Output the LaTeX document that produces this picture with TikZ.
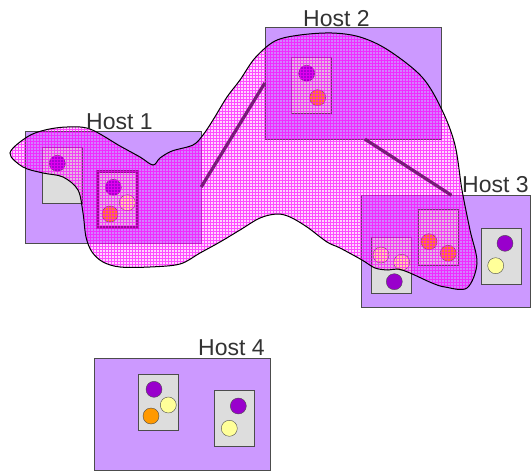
\documentclass[tikz,border=0pt]{standalone}
\usepackage{fontspec}
\setmainfont{Liberation Sans}
\definecolor{hostfill}{HTML}{CC99FF}
\definecolor{vmgrey}{HTML}{DDDDDD}
\definecolor{apppurple}{HTML}{9900CC}
\definecolor{apporange}{HTML}{FF9900}
\definecolor{appyellow}{HTML}{FFFF99}
\definecolor{linkpurple}{HTML}{7A1A7A}
\definecolor{hatch}{RGB}{255,0,255}
\newcommand\sharedarea{plot [smooth cycle, tension=0.55] coordinates {
  (10,153) (27,137) (45,130) (67,127) (90,129) (120,146) (140,157) (153,165)
  (160,158) (172,151) (193,145) (203,135) (213,120) (227,97) (240,80) (255,58)
  (275,41) (300,35) (332,33) (360,37) (388,50) (422,77) (442,110) (455,145)
  (462,190) (470,230) (477,263) (467,288) (445,287) (432,283) (410,273) (398,269)
  (388,270) (375,268) (362,260) (340,248) (327,242) (307,227) (290,217) (277,214)
  (260,218) (240,230) (220,242) (200,253) (180,264) (150,267) (120,267) (103,262)
  (92,252) (86,237) (83,213) (78,190) (63,177) (43,173) (23,167)}}

\begin{document}
\begin{tikzpicture}[x=1pt, y=-1pt,
  host/.style={draw=black!70, fill=hostfill, minimum width=176pt, minimum height=112pt, inner sep=0pt},
  vm/.style={draw=black!70, fill=vmgrey, minimum width=40pt, minimum height=56pt, inner sep=0pt},
  hostlabel/.style={anchor=base west, inner sep=0pt, text=black!80, font=\fontsize{23}{27}\selectfont},
  app/.style={draw=black!70, fill=#1},
  link/.style={line width=3.2pt, linkpurple}]
\useasboundingbox (0,0) rectangle (531,474);
% hosts
\node[host] (h1) at (113,187) {};
\node[host] (h2) at (353,83) {};
\node[host, minimum width=169pt] (h3) at (445.5,251.5) {};
\node[host] (h4) at (182,414) {};
% virtual machines
\node[vm] (v1a) at (61.7,175.3) {};
\node[vm, draw=linkpurple, line width=2.5pt] (v1b) at (117.5,199.3) {};
\node[vm] (v2) at (310.7,85.3) {};
\node[vm] (v3a) at (390.7,265.5) {};
\node[vm] (v3b) at (438.3,237.5) {};
\node[vm] (v3c) at (500.7,255.8) {};
\node[vm] (v4a) at (158.3,401.7) {};
\node[vm] (v4b) at (234.3,418.3) {};
% applications
\filldraw[app=apppurple] (57.3,163.3) circle (8pt);
\filldraw[app=apppurple] (113.3,187.3) circle (8pt);
\filldraw[app=appyellow] (127.3,202.7) circle (8pt);
\filldraw[app=apporange] (110,214) circle (8pt);
\filldraw[app=apppurple] (306.7,73.3) circle (8pt);
\filldraw[app=apporange] (317.7,97.7) circle (8pt);
\filldraw[app=appyellow] (381,255) circle (8pt);
\filldraw[app=appyellow] (401.7,262.3) circle (8pt);
\filldraw[app=apppurple] (394.3,281.7) circle (8pt);
\filldraw[app=apporange] (429,241.7) circle (8pt);
\filldraw[app=apporange] (448.3,253.3) circle (8pt);
\filldraw[app=apppurple] (505,243.3) circle (8pt);
\filldraw[app=appyellow] (495.7,265.7) circle (8pt);
\filldraw[app=apppurple] (154,389.3) circle (8pt);
\filldraw[app=appyellow] (168.3,405) circle (8pt);
\filldraw[app=apporange] (151,416) circle (8pt);
\filldraw[app=apppurple] (238.3,406) circle (8pt);
\filldraw[app=appyellow] (229.3,428.3) circle (8pt);
% shared region, hatched
\fill[hatch, opacity=0.16] \sharedarea;
\begin{scope}
\clip \sharedarea;
\draw[hatch, line width=0.6pt, opacity=0.65] (0,0) grid[step=3pt] (531,474);
\end{scope}
\draw[line width=1pt] \sharedarea;
% links
\draw[link] (h1.east) -- (h2.west);
\draw[link] ([xshift=12pt]h2.south) -- ([xshift=6pt]h3.north);
% labels
\node[hostlabel] (l1) at (86,129) {Host 1};
\node[hostlabel] (l2) at (303,26) {Host 2};
\node[hostlabel] (l3) at (462,192) {Host 3};
\node[hostlabel] (l4) at (198,355) {Host 4};
\end{tikzpicture}
\end{document}
